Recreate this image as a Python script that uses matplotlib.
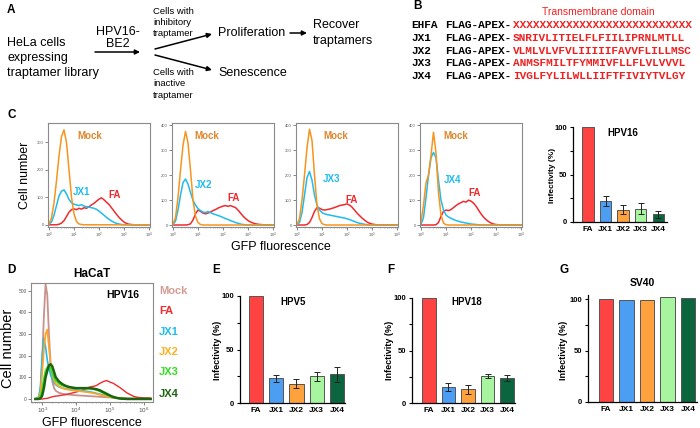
import matplotlib
matplotlib.use("Agg")
import matplotlib.pyplot as plt

plt.rcParams['font.family'] = ['Liberation Sans', 'DejaVu Sans']

W, H = 700, 428

# ---------------- data ----------------
# panel C histograms (log10 of GFP fluorescence)
c_log = [0.0, 0.1, 0.2, 0.3, 0.4, 0.5, 0.6, 0.7, 0.8, 0.9,
         1.0, 1.1, 1.2, 1.3, 1.4, 1.5, 1.6, 1.7, 1.8, 1.9,
         2.0, 2.1, 2.2, 2.3, 2.4, 2.5, 2.6, 2.7, 2.8, 2.9,
         3.0, 3.1, 3.2, 3.3, 3.4, 3.5, 3.6, 3.7, 3.8, 3.9, 4.0]

mock_c1 = [3, 25, 80, 160, 250, 320, 345, 300, 200, 100,
           40, 12, 3, 1, 0, 0, 0, 0, 0, 0,
           0, 0, 0, 0, 0, 0, 0, 0, 0, 0,
           0, 0, 0, 0, 0, 0, 0, 0, 0, 0, 0]
jx1_c = [2, 10, 35, 70, 105, 122, 127, 112, 92, 80,
         75, 72, 70, 73, 68, 66, 64, 62, 60, 56,
         50, 42, 35, 27, 20, 14, 9, 5, 3, 1,
         0, 0, 0, 0, 0, 0, 0, 0, 0, 0, 0]
fa_c1 = [0, 0, 0, 0, 2, 6, 15, 30, 46, 55,
         58, 55, 60, 57, 62, 60, 66, 72, 78, 86,
         93, 98, 91, 82, 74, 62, 50, 38, 27, 18,
         10, 5, 2, 1, 0, 0, 0, 0, 0, 0, 0]

mock_c2 = [3, 30, 110, 220, 320, 376, 330, 220, 100, 35,
           10, 2, 0, 0, 0, 0, 0, 0, 0, 0,
           0, 0, 0, 0, 0, 0, 0, 0, 0, 0,
           0, 0, 0, 0, 0, 0, 0, 0, 0, 0, 0]
jx2_c = [2, 15, 60, 120, 170, 185, 165, 130, 100, 80,
         66, 58, 52, 50, 54, 50, 45, 42, 38, 35,
         30, 26, 22, 18, 14, 10, 7, 4, 2, 1,
         0, 0, 0, 0, 0, 0, 0, 0, 0, 0, 0]
fa_c2 = [0, 0, 0, 0, 0, 0, 1, 5, 20, 45,
         60, 55, 48, 45, 48, 52, 58, 62, 68, 72,
         76, 78, 75, 78, 74, 70, 60, 48, 36, 26,
         18, 12, 8, 5, 3, 2, 1, 0, 0, 0, 0]

mock_c3 = [2, 25, 100, 200, 310, 385, 340, 200, 80, 25,
           6, 1, 0, 0, 0, 0, 0, 0, 0, 0,
           0, 0, 0, 0, 0, 0, 0, 0, 0, 0,
           0, 0, 0, 0, 0, 0, 0, 0, 0, 0, 0]
jx3_c = [1, 10, 50, 120, 190, 215, 180, 120, 80, 60,
         50, 45, 42, 40, 38, 36, 34, 32, 30, 28,
         25, 22, 18, 14, 10, 7, 5, 3, 1, 0,
         0, 0, 0, 0, 0, 0, 0, 0, 0, 0, 0]
fa_c3 = [0, 0, 0, 0, 2, 10, 30, 55, 70, 68,
         62, 60, 62, 64, 67, 70, 74, 78, 80, 82,
         85, 80, 72, 60, 48, 38, 28, 20, 12, 7,
         4, 2, 1, 0, 0, 0, 0, 0, 0, 0, 0]

mock_c4 = [10, 80, 170, 200, 280, 373, 290, 130, 40, 8,
           1, 0, 0, 0, 0, 0, 0, 0, 0, 0,
           0, 0, 0, 0, 0, 0, 0, 0, 0, 0,
           0, 0, 0, 0, 0, 0, 0, 0, 0, 0, 0]
jx4_c = [2, 30, 110, 200, 270, 292, 270, 180, 100, 60,
         40, 32, 27, 22, 18, 15, 12, 10, 8, 6,
         4, 3, 2, 1, 0, 0, 0, 0, 0, 0,
         0, 0, 0, 0, 0, 0, 0, 0, 0, 0, 0]
fa_c4 = [0, 0, 0, 0, 0, 0, 1, 10, 35, 55,
         60, 58, 62, 70, 78, 85, 90, 95, 92, 100,
         96, 88, 76, 60, 45, 32, 22, 14, 8, 4,
         2, 1, 0, 0, 0, 0, 0, 0, 0, 0, 0]

# panel D histograms (HaCaT)
d_log = [2.8, 2.9, 2.95, 3.0, 3.05, 3.1, 3.15, 3.2, 3.25, 3.3,
         3.35, 3.4, 3.5, 3.6, 3.7, 3.8, 3.9, 4.0, 4.1, 4.2,
         4.3, 4.4, 4.5, 4.6, 4.7, 4.8, 4.9, 5.0, 5.1, 5.2,
         5.3, 5.4, 5.5, 5.6, 5.7, 5.8, 5.9, 6.0, 6.1, 6.2]
mock_d = [0, 5, 40, 180, 380, 530, 480, 300, 150, 80,
          50, 38, 28, 24, 22, 20, 18, 17, 16, 15,
          14, 13, 12, 11, 10, 9, 8, 7, 6, 5,
          4, 3, 3, 2, 2, 1, 1, 1, 0, 0]
fa_d = [0, 0, 0, 0, 1, 2, 3, 5, 8, 10,
        12, 13, 15, 18, 20, 24, 28, 32, 36, 42,
        48, 55, 58, 62, 72, 80, 85, 78, 72, 62,
        52, 40, 28, 20, 12, 8, 6, 5, 5, 4]
jx1_d = [0, 10, 60, 200, 280, 240, 180, 140, 110, 90,
         75, 65, 55, 50, 47, 45, 43, 42, 40, 38,
         36, 33, 30, 26, 22, 18, 14, 10, 7, 5,
         3, 2, 1, 1, 0, 0, 0, 0, 0, 0]
jx2_d = [0, 5, 30, 120, 230, 300, 320, 240, 160, 110,
         85, 70, 58, 50, 45, 42, 40, 38, 36, 34,
         32, 30, 27, 24, 20, 16, 12, 9, 6, 4,
         3, 2, 1, 0, 0, 0, 0, 0, 0, 0]
jx3_d = [0, 2, 10, 40, 90, 130, 145, 150, 140, 120,
         100, 85, 70, 62, 58, 55, 52, 50, 50, 50,
         48, 48, 46, 42, 36, 28, 20, 13, 8, 4,
         2, 1, 0, 0, 0, 0, 0, 0, 0, 0]
jx4_d = [0, 0, 3, 15, 50, 100, 130, 155, 160, 150,
         125, 100, 80, 68, 60, 55, 52, 50, 50, 50,
         50, 50, 48, 45, 40, 32, 24, 16, 9, 5,
         2, 1, 0, 0, 0, 0, 0, 0, 0, 0]

# infectivity bar charts
bar_names = ["FA", "JX1", "JX2", "JX3", "JX4"]
hpv16_vals = [100, 22, 13, 14, 8]
hpv16_err = [0, 5, 5, 6, 4]
hpv5_vals = [100, 23, 18, 25, 27]
hpv5_err = [0, 3, 4, 4, 7]
hpv18_vals = [100, 15, 13, 26, 24]
hpv18_err = [0, 4, 4, 2, 3]
sv40_vals = [100, 99, 99, 102, 101]

# panel B sequences
seq_names = ["EHFA", "JX1", "JX2", "JX3", "JX4"]
seq_tm = ["XXXXXXXXXXXXXXXXXXXXXXXXXXX",
          "SNRIVLITIELFLFIILIPRNLMTLL",
          "VLMLVLVFVLIIIIIFAVVFLILLMSC",
          "ANMSFMILTFYMMIVFLLFLVLVVVL",
          "IVGLFYLILWLLIIFTFIVIYTVLGY"]

bar_colors = ["#FF4242", "#4C9EF2", "#FFA23E", "#A8F5A0", "#0B6640"]
ORANGE = "#F7941D"
CYAN = "#1EBCEE"
RED = "#F02A2E"


def px_axes(fig, left, top, right, bottom):
    return fig.add_axes([left / W, 1 - bottom / H, (right - left) / W, (bottom - top) / H])


fig = plt.figure(figsize=(W / 100, H / 100), dpi=100)

# overlay axes in pixel coordinates for text and arrows (on top of everything)
bg = fig.add_axes([0, 0, 1, 1])
bg.set_xlim(0, W)
bg.set_ylim(H, 0)
bg.axis("off")
bg.set_zorder(10)


def txt(x, y, s, **kw):
    kw.setdefault("va", "center")
    bg.text(x, y, s, **kw)


def arrow(x0, y0, x1, y1):
    bg.annotate("", xy=(x1, y1), xytext=(x0, y0),
                arrowprops=dict(arrowstyle="-|>", lw=1.1, color="black",
                                mutation_scale=7, shrinkA=0, shrinkB=0))


# panel letters
for letter, x, y in [("A", 7, 10), ("B", 413, 6), ("C", 7, 115), ("D", 7, 270),
                     ("E", 212, 270), ("F", 387, 270), ("G", 560, 270)]:
    txt(x, y, letter, fontsize=8.5, fontweight="bold")

# ---------- panel A ----------
txt(7, 43, "HeLa cells", fontsize=9)
txt(7, 58, "expressing", fontsize=9)
txt(7, 73, "traptamer library", fontsize=9)
txt(118, 32, "HPV16-", fontsize=9, ha="center")
txt(118, 44, "BE2", fontsize=9, ha="center")
arrow(95, 52, 140, 52)
txt(153, 11, "Cells with", fontsize=6.8)
txt(153, 22, "inhibitory", fontsize=6.8)
txt(153, 33, "traptamer", fontsize=6.8)
arrow(155, 49, 212, 34)
arrow(155, 55, 212, 70)
txt(153, 72, "Cells with", fontsize=6.8)
txt(153, 83, "inactive", fontsize=6.8)
txt(153, 95, "traptamer", fontsize=6.8)
txt(218, 33, "Proliferation", fontsize=9)
txt(218, 73, "Senescence", fontsize=9)
arrow(290, 33, 307, 33)
txt(313, 25, "Recover", fontsize=9)
txt(313, 41, "traptamers", fontsize=9)

# ---------- panel B ----------
txt(598, 12, "Transmembrane domain", fontsize=7.5, color="#F02020", ha="center")
for i, (name, tm) in enumerate(zip(seq_names, seq_tm)):
    y = 25 + i * 12.8
    txt(411, y, name, fontsize=8, fontweight="bold", family="Liberation Mono")
    txt(445, y, "FLAG-APEX-", fontsize=8, fontweight="bold", family="Liberation Mono")
    txt(513, y, tm, fontsize=8, fontweight="bold", family="Liberation Mono", color="#F02020")


# ---------- panel C histograms ----------
def style_hist(ax, xlo, xhi, ymax, tick_fs):
    ax.set_xscale("log")
    ax.set_xlim(10 ** xlo, 10 ** xhi)
    ax.set_ylim(-8, ymax)
    for s in ax.spines.values():
        s.set_color("#8a8a8a")
        s.set_linewidth(0.8)
    ax.tick_params(axis="both", which="major", labelsize=tick_fs, length=2, width=0.5,
                   colors="#555555", pad=1)
    ax.tick_params(axis="both", which="minor", length=1, width=0.4, colors="#777777")


c_sets = [(mock_c1, jx1_c, fa_c1, "JX1", 370),
          (mock_c2, jx2_c, fa_c2, "JX2", 410),
          (mock_c3, jx3_c, fa_c3, "JX3", 410),
          (mock_c4, jx4_c, fa_c4, "JX4", 410)]
c_lefts = [48, 172, 296, 420]
c_label_pos = [((77, 136), (73, 192), (108, 195)),
               ((194, 136), (195, 185), (227, 198)),
               ((323, 136), (323, 179), (345, 200)),
               ((443, 136), (444, 180), (468, 193))]
c_x = [10 ** v for v in c_log]
for (mock, jx, fa, name, ymax), left, pos in zip(c_sets, c_lefts, c_label_pos):
    ax = px_axes(fig, left, 123, left + 102, 227)
    ax.plot(c_x, fa, color=RED, lw=1.1)
    ax.plot(c_x, jx, color=CYAN, lw=1.1)
    ax.plot(c_x, mock, color=ORANGE, lw=1.1)
    style_hist(ax, -0.04, 4.04, ymax, 3)
    ax.set_yticks([0, 100, 200, 300, 400])
    ax.set_ylim(-8, ymax)
    txt(pos[0][0], pos[0][1], "Mock", color="#E0862A", fontsize=7, fontweight="bold")
    txt(pos[1][0], pos[1][1], name, color=CYAN, fontsize=7, fontweight="bold")
    txt(pos[2][0], pos[2][1], "FA", color=RED, fontsize=7, fontweight="bold")

txt(25, 175, "Cell number", fontsize=9, rotation=90, ha="center")
txt(281, 247, "GFP fluorescence", fontsize=9, ha="center")


# ---------- bar charts ----------
def bar_chart(left, right, y0, y100, ymax, vals, errs, xlo, xhi, width):
    ax = px_axes(fig, left, y0 - (y0 - y100) * ymax / 100, right, y0)
    xs = list(range(len(vals)))
    ax.bar(xs, vals, width=width, color=bar_colors, edgecolor="#555555", linewidth=0.7)
    if errs is not None:
        ax.errorbar(xs[1:], vals[1:], yerr=errs[1:], fmt="none", ecolor="#222222",
                    elinewidth=0.7, capsize=2, capthick=0.7)
    ax.set_xlim(xlo, xhi)
    ax.set_ylim(0, ymax)
    ax.set_yticks([0, 50, 100])
    ax.set_yticks([25, 75], minor=True)
    ax.set_xticks(xs)
    ax.set_xticklabels(bar_names, fontsize=6, fontweight="bold")
    for lab in ax.get_yticklabels():
        lab.set_fontsize(5.5)
        lab.set_fontweight("bold")
    ax.spines["top"].set_visible(False)
    ax.spines["right"].set_visible(False)
    for s in ("left", "bottom"):
        ax.spines[s].set_linewidth(0.9)
    ax.tick_params(axis="both", which="major", length=2.5, width=0.8, pad=1.5)
    ax.tick_params(axis="y", which="minor", length=2.5, width=0.8)
    ax.tick_params(axis="x", length=0, pad=3)
    ax.patch.set_alpha(0)
    return ax


bar_chart(573, 667, 222, 127, 100, hpv16_vals, hpv16_err, -0.86, 4.5, 0.65)
txt(623, 133, "HPV16", fontsize=7, fontweight="bold", ha="center")
txt(553, 175, "Infectivity (%)", fontsize=6, fontweight="bold", rotation=90, ha="center")

bar_chart(240, 345, 403, 296, 100, hpv5_vals, hpv5_err, -0.79, 4.4, 0.7)
txt(293, 302, "HPV5", fontsize=7, fontweight="bold", ha="center")
txt(218, 350, "Infectivity (%)", fontsize=6.5, fontweight="bold", rotation=90, ha="center")

bar_chart(412, 515, 403, 298, 100, hpv18_vals, hpv18_err, -0.86, 4.4, 0.7)
txt(467, 302, "HPV18", fontsize=7, fontweight="bold", ha="center")
txt(390, 350, "Infectivity (%)", fontsize=6.5, fontweight="bold", rotation=90, ha="center")

bar_chart(588, 697, 402, 299, 104, sv40_vals, None, -0.88, 4.44, 0.7)
txt(642, 283, "SV40", fontsize=7.5, fontweight="bold", ha="center")
txt(564, 350, "Infectivity (%)", fontsize=6.5, fontweight="bold", rotation=90, ha="center")

# ---------- panel D ----------
axd = px_axes(fig, 31, 283, 153, 402)
d_x = [10 ** v for v in d_log]
axd.plot(d_x, mock_d, color="#C9918C", lw=1.3)
axd.plot(d_x, fa_d, color=RED, lw=1.0)
axd.plot(d_x, jx1_d, color=CYAN, lw=1.2)
axd.plot(d_x, jx2_d, color="#FFA426", lw=1.3)
axd.plot(d_x, jx3_d, color="#3FE02A", lw=1.5)
axd.plot(d_x, jx4_d, color="#1E6410", lw=1.8)
style_hist(axd, 2.67, 6.27, 535, 3.5)
axd.set_ylim(-14, 535)
axd.set_yticks([0, 100, 200, 300, 400, 500])
axd.tick_params(axis="x", which="major", labelsize=4.5)
txt(123, 295, "HPV16", fontsize=7.5, fontweight="bold", ha="center")
txt(92, 274, "HaCaT", fontsize=8.5, fontweight="bold", ha="center")
txt(8, 348, "Cell number", fontsize=10.5, rotation=90, ha="center")
txt(92, 423, "GFP fluorescence", fontsize=9, ha="center")
for name, col, y in [("Mock", "#D49C94", 291), ("FA", RED, 311), ("JX1", CYAN, 332),
                     ("JX2", "#FFB020", 352), ("JX3", "#33DD22", 372), ("JX4", "#1E6410", 394)]:
    txt(159, y, name, color=col, fontsize=8, fontweight="bold")

fig.savefig("out.png", dpi=100)
